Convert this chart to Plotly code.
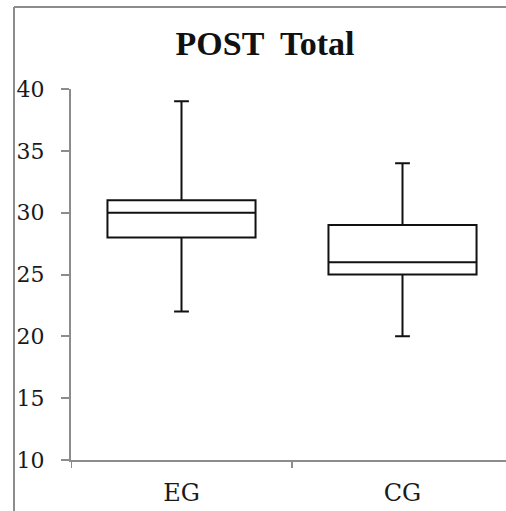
import plotly.graph_objects as go

categories = ["EG", "CG"]
lower_whisker = [22, 20]
q1_values = [28, 25]
median_values = [30, 26]
q3_values = [31, 29]
upper_whisker = [39, 34]
y_ticks = [10, 15, 20, 25, 30, 35, 40]

W, H = 506, 511
L, T, B = 71, 89, 51
plot_w = W - L
plot_h = H - T - B

fig = go.Figure()
fig.add_trace(go.Box(
    x=[0, 1],
    lowerfence=lower_whisker, q1=q1_values, median=median_values,
    q3=q3_values, upperfence=upper_whisker,
    width=0.67, whiskerwidth=0.1,
    fillcolor="rgba(255,255,255,0)",
    line=dict(color="#111111", width=2),
    boxpoints=False, showlegend=False, hoverinfo="skip",
))

# chart border (gray frame, cut off on right/bottom)
bx = (14 - L) / plot_w
by = (H - B - 7) / plot_h
fig.add_shape(type="line", xref="paper", yref="paper", x0=bx, x1=bx, y0=by, y1=-0.3,
              line=dict(color="#8c8c8c", width=2))
fig.add_shape(type="line", xref="paper", yref="paper", x0=bx, x1=1.2, y0=by, y1=by,
              line=dict(color="#8c8c8c", width=2))

fig.update_layout(
    width=W, height=H,
    margin=dict(l=L, r=0, t=T, b=B),
    paper_bgcolor="white", plot_bgcolor="white",
    hovermode=False,
    title=dict(text="<b>POST  Total</b>", x=265 / W, xanchor="center",
               y=1 - 43 / H, yanchor="middle", yref="container",
               font=dict(family="Liberation Serif", size=34, color="#111111")),
    xaxis=dict(
        range=[-0.5, 1.5 - 7 / 221],
        tickvals=[0, 1], ticktext=categories,
        showgrid=False, zeroline=False,
        showline=True, linecolor="#8c8c8c", linewidth=2,
        ticks="", ticklabelstandoff=10,
        tickfont=dict(family="DejaVu Serif", size=24, color="#1a1a1a"),
    ),
    yaxis=dict(
        range=[10, 40], tickvals=y_ticks,
        showgrid=False, zeroline=False,
        showline=True, linecolor="#8c8c8c", linewidth=2,
        ticks="outside", ticklen=8, tickcolor="#8c8c8c", tickwidth=2,
        ticklabelstandoff=12,
        tickfont=dict(family="DejaVu Serif", size=22, color="#1a1a1a"),
    ),
)

# category boundary ticks on x axis
for xv in [-0.5, 0.5]:
    fig.add_shape(type="line", xref="x", yref="paper", x0=xv, x1=xv, y0=0, y1=-8 / plot_h,
                  line=dict(color="#8c8c8c", width=2))

fig.write_html(
    "out.html",
    config={"displayModeBar": False, "staticPlot": True},
    post_script=(
        "document.documentElement.style.overflow='hidden';"
        "document.body.style.margin='0';document.body.style.overflow='hidden';"
        "var d=document.getElementById('{plot_id}');"
        "d.style.position='fixed';d.style.left='0px';d.style.top='0px';"
    ),
)
